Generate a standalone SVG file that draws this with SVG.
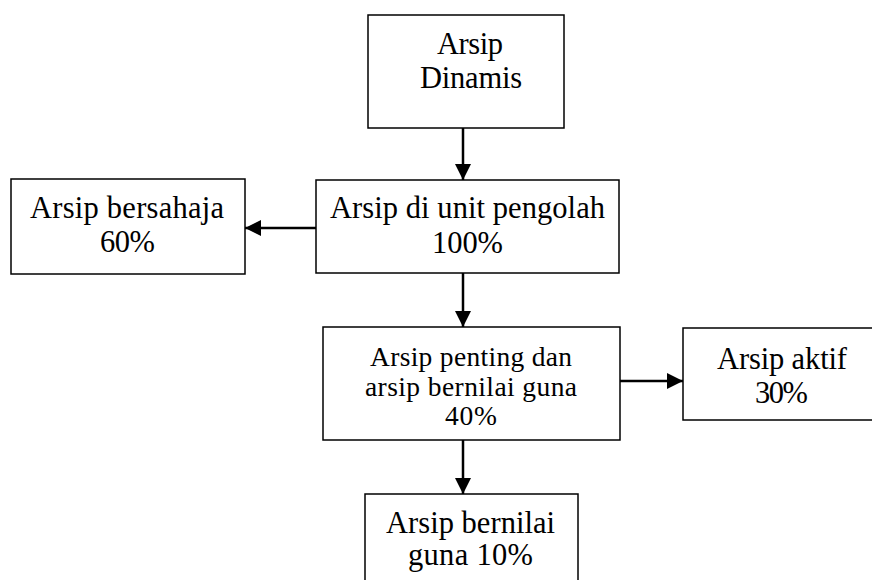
<svg xmlns="http://www.w3.org/2000/svg" width="872" height="580" viewBox="0 0 872 580">
<style>
.box{fill:#fff;stroke:#000;stroke-width:1.5}
.t{font-family:"Liberation Serif","DejaVu Serif",serif;font-size:30.5px;fill:#000;text-anchor:middle}
.s{font-size:27.5px}
.c{stroke:#000;stroke-width:2.5;fill:none;marker-end:url(#ah)}
</style>
<defs>
<marker id="ah" markerUnits="userSpaceOnUse" markerWidth="16" markerHeight="16" viewBox="0 0 16 16" refX="16" refY="8" orient="auto">
<path d="M0,0 L16,8 L0,16 z" fill="#000"/>
</marker>
</defs>
<g id="connectors">
<line class="c" x1="463" y1="128" x2="463" y2="180"/>
<line class="c" x1="316" y1="228" x2="245" y2="228"/>
<line class="c" x1="463" y1="273" x2="463" y2="327"/>
<line class="c" x1="620" y1="381" x2="683" y2="381"/>
<line class="c" x1="463" y1="440" x2="463" y2="494"/>
</g>
<g id="n1">
<rect class="box" x="368" y="15" width="196" height="113"/>
<text class="t" x="470" y="54" textLength="66">Arsip</text>
<text class="t" x="471" y="88" textLength="102">Dinamis</text>
</g>
<g id="n2">
<rect class="box" x="316" y="180" width="303" height="93"/>
<text class="t" x="467.5" y="218" textLength="275">Arsip di unit pengolah</text>
<text class="t" x="467.5" y="253" textLength="71">100%</text>
</g>
<g id="n3">
<rect class="box" x="11" y="179" width="234" height="95"/>
<text class="t" x="127" y="218" textLength="194">Arsip bersahaja</text>
<text class="t" x="127.5" y="252" textLength="55">60%</text>
</g>
<g id="n4">
<rect class="box" x="323" y="327" width="297" height="113"/>
<text class="t s" x="471" y="366" textLength="202">Arsip penting dan</text>
<text class="t s" x="471" y="396" textLength="212">arsip bernilai guna</text>
<text class="t s" x="471" y="425" textLength="52">40%</text>
</g>
<g id="n5">
<rect class="box" x="683" y="328" width="200" height="92"/>
<text class="t" x="782" y="369" textLength="130">Arsip aktif</text>
<text class="t" x="781.5" y="403" textLength="53">30%</text>
</g>
<g id="n6">
<rect class="box" x="365" y="494" width="213" height="100"/>
<text class="t" x="470.5" y="533" textLength="169">Arsip bernilai</text>
<text class="t" x="470.5" y="565" textLength="125">guna 10%</text>
</g>
</svg>
